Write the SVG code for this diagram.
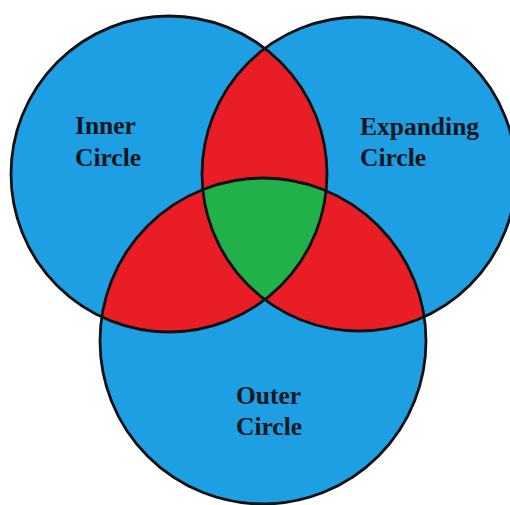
<svg xmlns="http://www.w3.org/2000/svg" width="510" height="505" viewBox="0 0 510 505">
<style>
.fill{fill:#1e9fe4}
.red{fill:#e81d25}
.green{fill:#22b04b}
.edge{fill:none;stroke:#111;stroke-width:2.8}
.lbl{font-family:"Liberation Serif","Times New Roman",serif;font-weight:bold;font-size:25.5px;fill:#0d1620}
</style>
<defs>
<clipPath id="cA"><circle cx="169" cy="174" r="158"/></clipPath>
<clipPath id="cB"><circle cx="359" cy="174" r="157"/></clipPath>
<clipPath id="cC"><circle cx="263" cy="341" r="163"/></clipPath>
</defs>
<rect width="510" height="505" fill="#fff"/>
<g id="inner-circle">
<circle class="fill" cx="169" cy="174" r="158"/>
</g>
<g id="expanding-circle">
<circle class="fill" cx="359" cy="174" r="157"/>
</g>
<g id="outer-circle">
<circle class="fill" cx="263" cy="341" r="163"/>
</g>
<g id="overlaps">
<circle class="red" cx="359" cy="174" r="157" clip-path="url(#cA)"/>
<circle class="red" cx="263" cy="341" r="163" clip-path="url(#cA)"/>
<circle class="red" cx="263" cy="341" r="163" clip-path="url(#cB)"/>
<g clip-path="url(#cA)"><circle class="green" cx="263" cy="341" r="163" clip-path="url(#cB)"/></g>
</g>
<g id="outlines">
<circle class="edge" cx="169" cy="174" r="158"/>
<circle class="edge" cx="359" cy="174" r="157"/>
<circle class="edge" cx="263" cy="341" r="163"/>
</g>
<g id="labels">
<text class="lbl" x="75" y="134">Inner</text>
<text class="lbl" x="75" y="166">Circle</text>
<text class="lbl" x="360" y="135">Expanding</text>
<text class="lbl" x="360" y="166">Circle</text>
<text class="lbl" x="236" y="404">Outer</text>
<text class="lbl" x="236" y="435">Circle</text>
</g>
</svg>
